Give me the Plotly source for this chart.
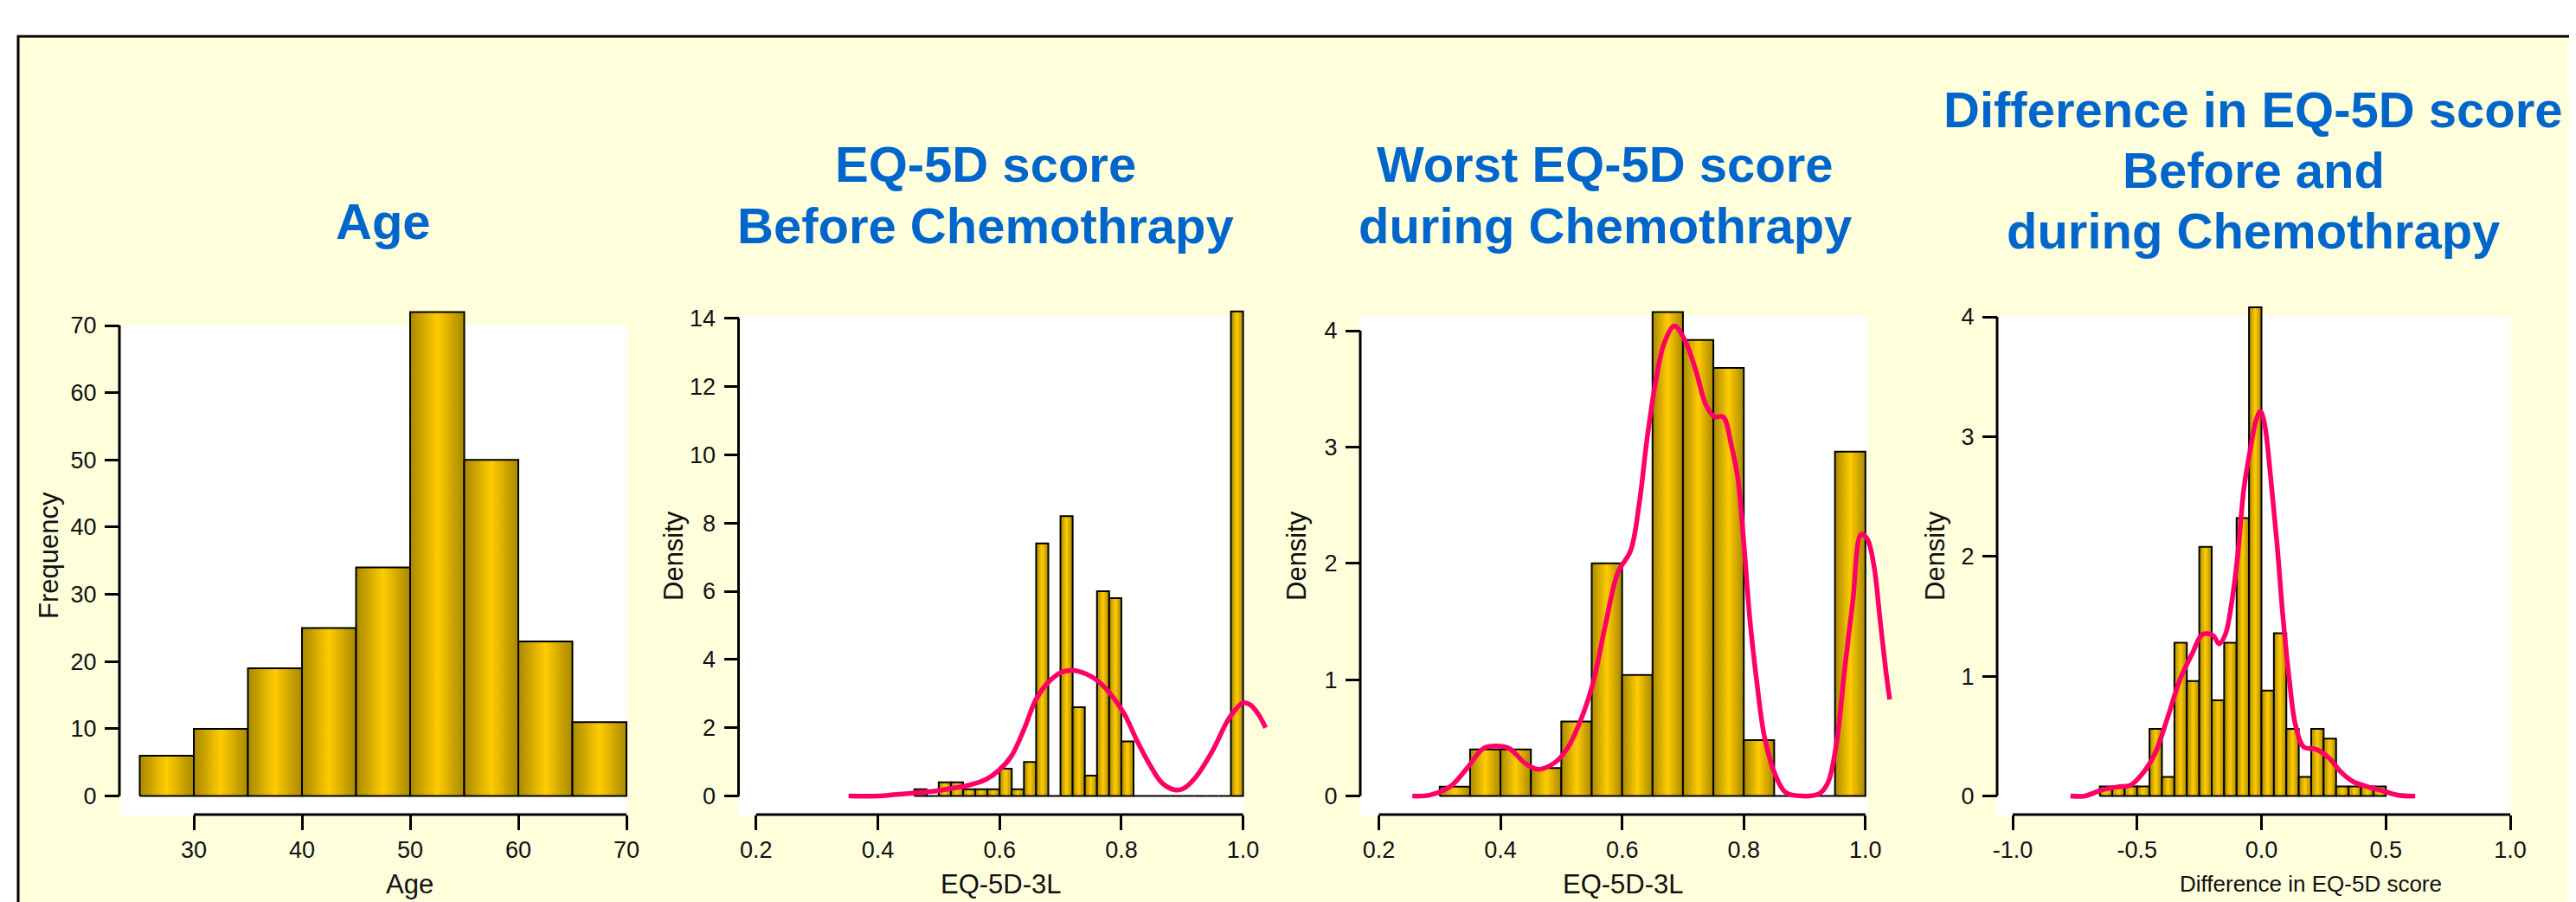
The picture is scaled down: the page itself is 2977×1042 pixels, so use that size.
import plotly.graph_objects as go

W, H = 2977, 1042

# ---------------- data ----------------
age_bin_edges = [25, 30, 35, 40, 45, 50, 55, 60, 65, 70]
age_frequency = [6, 10, 19, 25, 34, 72, 50, 23, 11]
age_yticks = [0, 10, 20, 30, 40, 50, 60, 70]
age_xticks = [30, 40, 50, 60, 70]

before_bin_start = 0.46
before_bin_width = 0.02
before_density = [0.2, 0.0, 0.4, 0.4, 0.2, 0.2, 0.2, 0.8, 0.2, 1.0, 7.4, 0.0, 8.2, 2.6,
                  0.6, 6.0, 5.8, 1.6, 0.0, 0.0, 0.0, 0.0, 0.0, 0.0, 0.0, 0.0, 14.2]
before_kde_x = [0.352, 0.40, 0.426, 0.46, 0.495, 0.52, 0.55, 0.578, 0.598, 0.619, 0.64,
                0.66, 0.681, 0.702, 0.722, 0.743, 0.763, 0.784, 0.805, 0.826, 0.846,
                0.867, 0.888, 0.901, 0.922, 0.95, 0.977, 1.0, 1.012, 1.025, 1.037]
before_kde_y = [0.0, 0.0, 0.04, 0.09, 0.15, 0.22, 0.32, 0.49, 0.74, 1.16, 1.95,
                2.84, 3.35, 3.63, 3.68, 3.57, 3.35, 2.95, 2.4, 1.61, 0.94,
                0.38, 0.18, 0.21, 0.55, 1.33, 2.28, 2.73, 2.67, 2.4, 2.0]
before_yticks = [0, 2, 4, 6, 8, 10, 12, 14]

worst_bin_start = 0.30
worst_bin_width = 0.05
worst_density = [0.08, 0.40, 0.40, 0.24, 0.64, 2.0, 1.04, 4.16, 3.92, 3.68, 0.48, 0.0, 0.0, 2.96]
worst_kde_x = [0.255, 0.283, 0.317, 0.345, 0.372, 0.393, 0.414, 0.441, 0.462, 0.49, 0.51,
               0.531, 0.552, 0.572, 0.593, 0.614, 0.628, 0.641, 0.655, 0.669, 0.686,
               0.703, 0.721, 0.738, 0.752, 0.766, 0.779, 0.79, 0.80, 0.81, 0.821,
               0.834, 0.852, 0.869, 0.897, 0.924, 0.938, 0.952, 0.966, 0.979, 0.993,
               1.003, 1.014, 1.024, 1.034, 1.04]
worst_kde_y = [0.0, 0.007, 0.08, 0.24, 0.41, 0.43, 0.41, 0.28, 0.23, 0.29, 0.41,
               0.64, 0.97, 1.46, 1.92, 2.11, 2.51, 3.07, 3.56, 3.89, 4.04,
               3.92, 3.66, 3.36, 3.26, 3.26, 3.03, 2.74, 2.18, 1.52, 1.0,
               0.51, 0.18, 0.03, 0.0, 0.02, 0.11, 0.44, 1.1, 1.66, 2.25,
               2.21, 1.98, 1.52, 1.06, 0.83]
density_yticks = [0, 1, 2, 3, 4]

eq_xticks = [0.2, 0.4, 0.6, 0.8, 1.0]
eq_xtick_labels = ["0.2", "0.4", "0.6", "0.8", "1.0"]

diff_bin_start = -0.65
diff_bin_width = 0.05
diff_density = [0.08, 0.08, 0.08, 0.08, 0.56, 0.16, 1.28, 0.96, 2.08, 0.80, 1.28, 2.32,
                4.08, 0.88, 1.36, 0.56, 0.16, 0.56, 0.48, 0.08, 0.08, 0.08, 0.08]
diff_kde_x = [-0.768, -0.71, -0.643, -0.577, -0.527, -0.477, -0.427, -0.378, -0.328,
              -0.278, -0.237, -0.195, -0.17, -0.145, -0.12, -0.095, -0.071, -0.046,
              -0.021, -0.004, 0.012, 0.037, 0.062, 0.087, 0.112, 0.137, 0.17, 0.22,
              0.27, 0.32, 0.369, 0.419, 0.485, 0.552, 0.618]
diff_kde_y = [0.0, 0.0, 0.05, 0.077, 0.09, 0.19, 0.36, 0.65, 0.97,
              1.19, 1.35, 1.34, 1.27, 1.35, 1.61, 2.02, 2.56, 2.88,
              3.14, 3.21, 3.11, 2.66, 2.12, 1.48, 0.97, 0.59, 0.41, 0.39,
              0.32, 0.2, 0.12, 0.083, 0.045, 0.006, 0.0]
diff_xticks = [-1.0, -0.5, 0.0, 0.5, 1.0]
diff_xtick_labels = ["-1.0", "-0.5", "0.0", "0.5", "1.0"]

# ---------------- style ----------------
FONT = "Liberation Sans, Arial, sans-serif"
TITLE_BLUE = "#0066CC"
BG_YELLOW = "#FFFFDC"
KDE_PINK = "#FF0066"
BAR_SCALE = [[0.0, "#A88800"], [0.5, "#FFCC00"], [1.0, "#A88800"]]
TEXT = "#111111"
TICKFONT = 27


def lin(v1, p1, v2, p2):
    s = (v2 - v1) / (p2 - p1)
    return lambda p: v1 + (p - p1) * s


def edges_from(start, width, n):
    return [round(start + i * width, 6) for i in range(n + 1)]


# panel geometry in pixels (layout only)
Y_DOM = (325, 943)
panels = [
    dict(xa=(30, 216, 70, 716), ya=(0, 911.6, 70, 368), dom=(120, 774),
         ypx=130, xpx=933, white=(131, 717, 368, 934),
         edges=age_bin_edges, heights=age_frequency, kde=None,
         yticks=age_yticks, xticks=age_xticks, xlabels=[str(v) for v in age_xticks]),
    dict(xa=(0.2, 865.8, 1.0, 1428.6), ya=(0, 911.6, 14, 359.6), dom=(836, 1504),
         ypx=845.5, xpx=933, white=(844.5, 1430.6, 357, 934),
         edges=edges_from(before_bin_start, before_bin_width, len(before_density)),
         heights=before_density, kde=(before_kde_x, before_kde_y),
         yticks=before_yticks, xticks=eq_xticks, xlabels=eq_xtick_labels),
    dict(xa=(0.2, 1585.5, 1.0, 2147.8), ya=(0, 911.6, 4, 374), dom=(1554, 2224),
         ypx=1564, xpx=933, white=(1563, 2150, 357, 934),
         edges=edges_from(worst_bin_start, worst_bin_width, len(worst_density)),
         heights=worst_density, kde=(worst_kde_x, worst_kde_y),
         yticks=density_yticks, xticks=eq_xticks, xlabels=eq_xtick_labels),
    dict(xa=(-1.0, 2318, 1.0, 2893), ya=(0, 911.6, 4, 358), dom=(2290, 2977),
         ypx=2300, xpx=933, white=(2299, 2894, 357, 934),
         edges=edges_from(diff_bin_start, diff_bin_width, len(diff_density)),
         heights=diff_density, kde=(diff_kde_x, diff_kde_y),
         yticks=density_yticks, xticks=diff_xticks, xlabels=diff_xtick_labels),
]

fig = go.Figure()
shapes = [dict(type="rect", xref="paper", yref="paper",
               x0=13 / W, x1=3050 / W, y0=1 - 1100 / H, y1=1 - 34 / H,
               fillcolor=BG_YELLOW, line=dict(color="black", width=3), layer="below")]
layout_axes = {}

for i, p in enumerate(panels, start=1):
    xs = "" if i == 1 else str(i)
    xref, yref = "x" + xs, "y" + xs
    fx = lin(*p["xa"])
    fy = lin(*p["ya"])
    layout_axes["xaxis" + xs] = dict(
        domain=[p["dom"][0] / W, p["dom"][1] / W],
        range=[fx(p["dom"][0]), fx(p["dom"][1])],
        anchor="free", position=1 - p["xpx"] / H,
        showline=False, showgrid=False, zeroline=False,
        ticks="outside", ticklen=17, tickwidth=2.5, tickcolor="black",
        tickvals=p["xticks"], ticktext=p["xlabels"],
        tickfont=dict(family=FONT, size=TICKFONT, color=TEXT),
        fixedrange=True)
    layout_axes["yaxis" + xs] = dict(
        domain=[1 - Y_DOM[1] / H, 1 - Y_DOM[0] / H],
        range=[fy(Y_DOM[1]), fy(Y_DOM[0])],
        anchor="free", position=p["ypx"] / W,
        showline=False, showgrid=False, zeroline=False,
        ticks="outside", ticklen=17, tickwidth=2.5, tickcolor="black",
        tickvals=p["yticks"], ticktext=[str(v) for v in p["yticks"]],
        ticklabelstandoff=4,
        tickfont=dict(family=FONT, size=TICKFONT, color=TEXT),
        fixedrange=True)
    wl, wr, wt, wb = p["white"]
    shapes.append(dict(type="rect", xref=xref, yref=yref,
                       x0=fx(wl), x1=fx(wr), y0=fy(wb), y1=fy(wt),
                       fillcolor="white", line=dict(width=0), layer="below"))
    # axis lines spanning first to last tick
    shapes.append(dict(type="line", xref="paper", yref=yref,
                       x0=p["ypx"] / W, x1=p["ypx"] / W,
                       y0=p["yticks"][0], y1=p["yticks"][-1],
                       line=dict(color="black", width=3), layer="above"))
    shapes.append(dict(type="line", xref=xref, yref="paper",
                       x0=p["xticks"][0], x1=p["xticks"][-1],
                       y0=1 - p["xpx"] / H, y1=1 - p["xpx"] / H,
                       line=dict(color="black", width=3), layer="above"))
    # histogram bars with horizontal gradient
    ed = p["edges"]
    for k, h in enumerate(p["heights"]):
        l, r = ed[k], ed[k + 1]
        fig.add_trace(go.Scatter(
            x=[l, l, r, r, l], y=[0, h, h, 0, 0], xaxis=xref, yaxis=yref,
            mode="lines", fill="toself",
            fillgradient=dict(type="horizontal", colorscale=BAR_SCALE),
            line=dict(color="black", width=2), hoverinfo="skip", showlegend=False))
    if p["kde"] is not None:
        fig.add_trace(go.Scatter(
            x=p["kde"][0], y=p["kde"][1], xaxis=xref, yaxis=yref, mode="lines",
            line=dict(color=KDE_PINK, width=5.5, shape="spline", smoothing=1.0),
            hoverinfo="skip", showlegend=False))

annotations = []


def add_text(text, px, py, size, color=TEXT, bold=False, angle=0):
    annotations.append(dict(
        text=text, x=px / W, y=1 - py / H, xref="paper", yref="paper",
        xanchor="center", yanchor="middle", showarrow=False, textangle=angle,
        font=dict(family=FONT, size=size, color=color,
                  weight="bold" if bold else "normal")))


# panel titles
titles = [
    (435, [("Age", 247)]),
    (1131, [("EQ-5D score", 182), ("Before Chemothrapy", 252)]),
    (1847, [("Worst EQ-5D score", 182), ("during Chemothrapy", 252)]),
    (2596, [("Difference in EQ-5D score", 118), ("Before and", 188), ("during Chemothrapy", 258)]),
]
for cx, lines in titles:
    for txt, cy in lines:
        add_text(txt, cx, cy, 58, TITLE_BLUE, bold=True)

# axis titles
add_text("Age", 465, 1013, 31)
add_text("Frequency", 48, 634, 31, angle=-90)
add_text("EQ-5D-3L", 1149, 1013, 31)
add_text("Density", 770, 634, 31, angle=-90)
add_text("EQ-5D-3L", 1868, 1013, 31)
add_text("Density", 1490, 634, 31, angle=-90)
add_text("Difference in EQ-5D score", 2662, 1013, 26)
add_text("Density", 2228, 634, 31, angle=-90)

fig.update_layout(
    width=W, height=H, margin=dict(l=0, r=0, t=0, b=0),
    paper_bgcolor="white", plot_bgcolor="rgba(0,0,0,0)",
    shapes=shapes, annotations=annotations, showlegend=False,
    **layout_axes)

fig.write_html("out.html", config=dict(displayModeBar=False))
